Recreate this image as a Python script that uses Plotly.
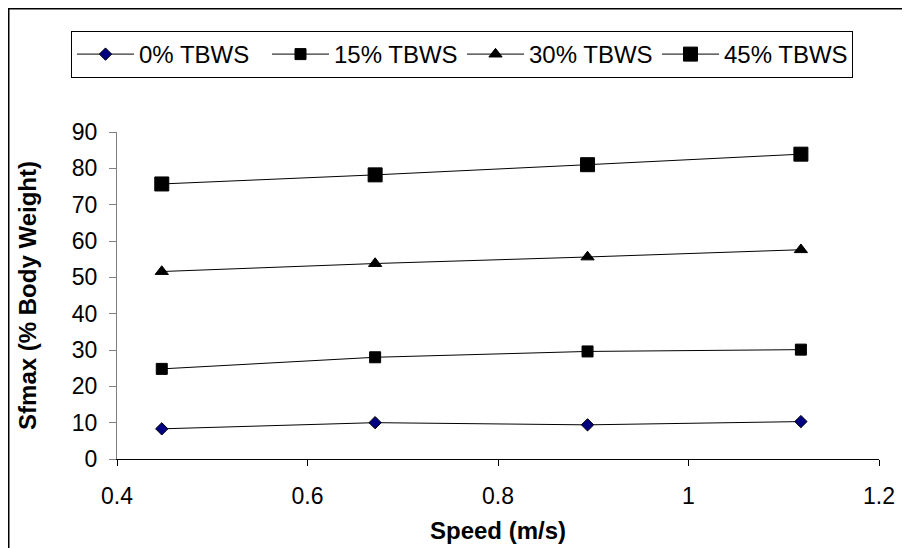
import plotly.graph_objects as go

speed = [0.447, 0.671, 0.894, 1.118]
series_names = ["0% TBWS", "15% TBWS", "30% TBWS", "45% TBWS"]
tbws_0 = [8.3, 10.0, 9.4, 10.3]
tbws_15 = [24.8, 28.0, 29.6, 30.1]
tbws_30 = [51.6, 53.8, 55.6, 57.6]
tbws_45 = [75.7, 78.2, 81.0, 83.9]
x_ticks = [0.4, 0.6, 0.8, 1.0, 1.2]
x_tick_labels = ["0.4", "0.6", "0.8", "1", "1.2"]
y_ticks = [0, 10, 20, 30, 40, 50, 60, 70, 80, 90]

styles = [
    dict(symbol="diamond", size=9.5, color="#000080"),
    dict(symbol="square", size=11, color="black"),
    dict(symbol="triangle-up", size=11.5, color="black"),
    dict(symbol="square", size=14, color="black"),
]

fig = go.Figure()
for name, vals, st in zip(series_names, [tbws_0, tbws_15, tbws_30, tbws_45], styles):
    fig.add_trace(go.Scatter(
        x=speed, y=vals, name=name, mode="lines+markers",
        line=dict(color="black", width=1),
        marker=dict(symbol=st["symbol"], size=st["size"], color=st["color"],
                    line=dict(color="black", width=1)),
    ))

# page body has an 8px margin: work in screen pixels, convert to figure pixels
OFF = 8
W, H = 910, 548
SL, SR, ST, SB = 117, 879, 132, 459          # plot area in screen px
L, T = SL - OFF, ST - OFF
R, B = W - (SR - OFF), H - (SB - OFF)
pw, ph = SR - SL, SB - ST

def px_x(p):
    return (p - SL) / pw

def px_y(p):
    return (SB - p) / ph

fig.update_layout(
    width=W, height=H,
    margin=dict(l=L, r=R, t=T, b=B, autoexpand=False),
    paper_bgcolor="white", plot_bgcolor="white",
    font=dict(family="Liberation Sans, Arial, sans-serif", color="black", size=23),
    showlegend=True,
    legend=dict(
        orientation="h", x=px_x(71), xanchor="left", y=px_y(31), yanchor="top",
        bordercolor="black", borderwidth=1, bgcolor="white",
        font=dict(size=24), itemwidth=57, tracegroupgap=0,
        entrywidth=123, entrywidthmode="pixels",
    ),
    xaxis=dict(
        range=[0.4, 1.2], tickvals=x_ticks, ticktext=x_tick_labels,
        showgrid=False, zeroline=False, showline=True, linecolor="black", linewidth=1,
        ticks="outside", ticklen=6, tickcolor="black", ticklabelstandoff=10,
        tickfont=dict(size=23),
        title=dict(text="<b>Speed (m/s)</b>", font=dict(size=24), standoff=14),
    ),
    yaxis=dict(
        range=[0, 90], tickvals=y_ticks,
        showgrid=False, zeroline=False, showline=True, linecolor="#808080", linewidth=1,
        ticks="outside", ticklen=7, tickcolor="#808080", ticklabelstandoff=7,
        tickfont=dict(size=23),
        title=dict(text="<b>Sfmax (% Body Weight)</b>", font=dict(size=24), standoff=28),
    ),
    shapes=[dict(
        type="rect", xref="paper", yref="paper",
        x0=px_x(OFF + 0.75), x1=px_x(930), y0=px_y(580), y1=px_y(OFF + 0.75),
        line=dict(color="black", width=1.5), fillcolor="rgba(0,0,0,0)", layer="below",
    )],
)

fig.write_html("out.html")
